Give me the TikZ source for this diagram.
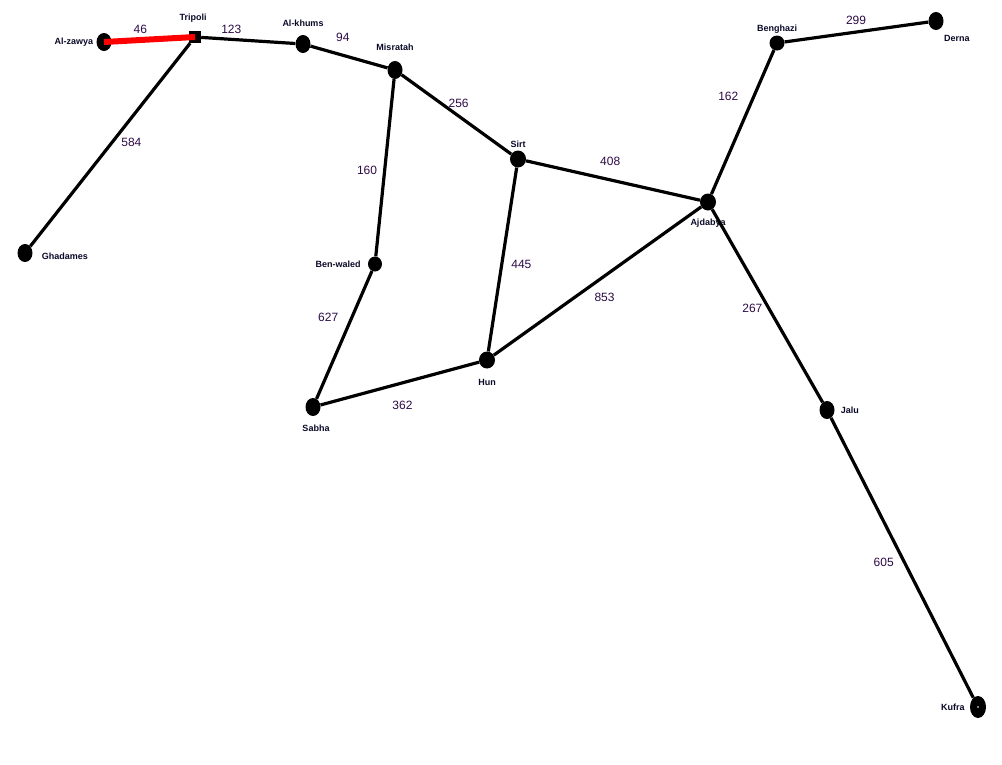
\documentclass[tikz,border=0pt]{standalone}
\usepackage{fontspec}
\setmainfont{Liberation Sans}
\usetikzlibrary{shapes.geometric,positioning}
\definecolor{numcol}{RGB}{45,10,70}
\definecolor{citycol}{RGB}{10,10,40}
\tikzset{
  town/.style={ellipse,fill=black,inner sep=0pt,minimum width=15pt,minimum height=18pt},
  lbl/.style={font=\fontsize{9}{10}\selectfont\bfseries,text=citycol,inner sep=0pt},
  wt/.style={font=\fontsize{12}{14}\selectfont,text=numcol,inner sep=0pt},
  road/.style={line width=3.2pt,black},
}
\begin{document}
\begin{tikzpicture}[x=1pt,y=-1pt]
\useasboundingbox (0,0) rectangle (1002,764);
\node[town,label={[lbl,label distance=3pt]left:Al-zawya}] (azawya) at (104,42) {};
\node[fill=black,minimum size=12pt,inner sep=0pt,label={[lbl,label distance=8pt,xshift=-2pt]above:Tripoli}] (tripoli) at (195,37) {};
\node[town,label={[lbl,label distance=8pt]above:Al-khums}] (alkhums) at (303,44) {};
\node[town,label={[lbl,label distance=10pt]above:Misratah}] (misratah) at (395,70) {};
\node[town,minimum width=16pt,minimum height=17pt,label={[lbl,label distance=3pt]above:Sirt}] (sirt) at (518,159) {};
\node[town,minimum width=16pt,minimum height=17pt,label={[lbl,label distance=8pt]below:Ajdabya}] (ajdabya) at (708,202) {};
\node[town,minimum width=15pt,minimum height=15pt,label={[lbl,label distance=2pt]above:Benghazi}] (benghazi) at (777,43) {};
\node[town,label={[lbl,label distance=3pt,yshift=-6pt]below right:Derna}] (derna) at (936,21) {};
\node[town,label={[lbl,label distance=9pt,yshift=-3pt]right:Ghadames}] (ghadames) at (25,253) {};
\node[town,minimum width=14pt,minimum height=15pt,label={[lbl,label distance=7pt]left:Ben-waled}] (benwaled) at (375,264) {};
\node[town,label={[lbl,label distance=9pt,xshift=3pt]below:Sabha}] (sabha) at (313,407) {};
\node[town,minimum width=16pt,minimum height=17pt,label={[lbl,label distance=10pt]below:Hun}] (hun) at (487,360) {};
\node[town,label={[lbl,label distance=6pt]right:Jalu}] (jalu) at (827,410) {};
\node[town,minimum width=16pt,minimum height=22pt,label={[lbl,label distance=5pt]left:Kufra}] (kufra) at (978,707) {};
\fill[white] (kufra.center) circle (0.8pt);

\draw[road] (tripoli) -- node[wt,pos=0.32,above=4pt] {123} (alkhums);
\draw[road] (tripoli) -- node[wt,pos=0.49,right=8pt] {584} (ghadames);
\draw[road] (alkhums) -- node[wt,pos=0.42,above=12pt] {94} (misratah);
\draw[road] (misratah) -- node[wt,pos=0.52,above=7pt] {256} (sirt);
\draw[road] (misratah) -- node[wt,pos=0.515,left=6pt] {160} (benwaled);
\draw[road] (sirt) -- node[wt,pos=0.484,above=13pt] {408} (ajdabya);
\draw[road] (sirt) -- node[wt,pos=0.527,right=8pt] {445} (hun);
\draw[road] (benwaled) -- node[wt,pos=0.364,left=12pt] {627} (sabha);
\draw[road] (sabha) -- node[wt,pos=0.517,below=17pt] {362} (hun);
\draw[road] (hun) -- node[wt,pos=0.534,below=16pt] {853} (ajdabya);
\draw[road] (ajdabya) -- node[wt,pos=0.68,left=14pt] {162} (benghazi);
\draw[road] (benghazi) -- node[wt,pos=0.497,above=6pt] {299} (derna);
\draw[road] (ajdabya) -- node[wt,pos=0.514,left=5pt] {267} (jalu);
\draw[road] (jalu) -- node[wt,pos=0.515,left=9pt] {605} (kufra);
\draw[road,red,line width=6pt] (azawya.center) -- node[wt,pos=0.4,above=3pt] {46} (tripoli.center);
\end{tikzpicture}
\end{document}
